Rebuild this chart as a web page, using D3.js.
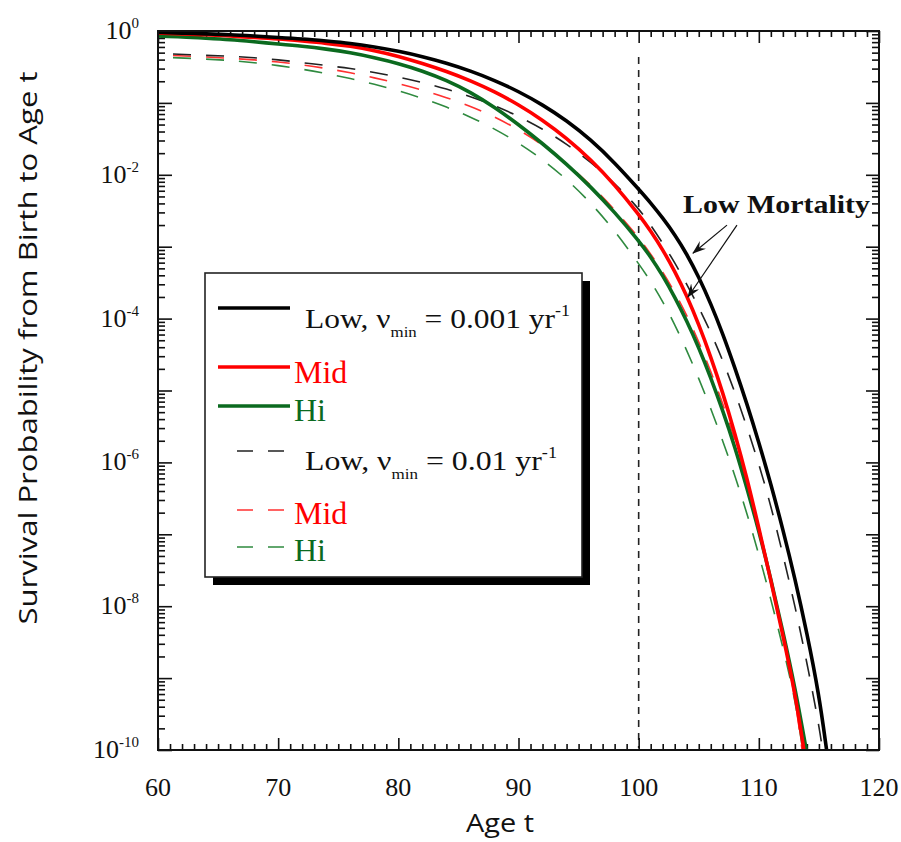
<!DOCTYPE html>
<html><head><meta charset="utf-8">
<script src="https://cdn.jsdelivr.net/npm/d3@7"></script>
<style>body{margin:0;background:#fff}svg{display:block}</style>
</head><body>
<svg id="chart" width="901" height="842"></svg>
<script>
// ---- data (survival probability, stored as log10 values) ----
const lowSolidAge = [60,62,64,66,68,70,72,74,76,78,80,82,84,86,88,90,92,94,96,98,100,101,102,103,104,105,106,107,108,109,110,111,112,113,114,115,115.64];
const lowSolidLog = [-0.02,-0.03,-0.04,-0.05,-0.07,-0.09,-0.11,-0.14,-0.17,-0.22,-0.28,-0.355,-0.445,-0.555,-0.685,-0.84,-1.025,-1.245,-1.51,-1.83,-2.2,-2.39,-2.6,-2.83,-3.1,-3.42,-3.79,-4.21,-4.68,-5.18,-5.72,-6.3,-6.93,-7.61,-8.37,-9.22,-10];
const midSolidAge = [60,62,64,66,68,70,72,74,76,78,80,82,84,86,88,90,92,94,96,98,100,101,102,103,104,105,106,107,108,109,110,111,112,113,113.75];
const midSolidLog = [-0.03,-0.04,-0.05,-0.07,-0.09,-0.11,-0.14,-0.17,-0.21,-0.27,-0.35,-0.45,-0.56,-0.69,-0.843,-1.024,-1.237,-1.489,-1.786,-2.136,-2.55,-2.78,-3.04,-3.34,-3.68,-4.08,-4.53,-5.03,-5.59,-6.21,-6.91,-7.64,-8.4,-9.19,-10];
const hiSolidAge = [60,62,64,66,68,70,72,74,76,78,80,82,84,86,88,90,92,94,96,98,100,101,102,103,104,105,106,107,108,109,110,111,112,113,113.95];
const hiSolidLog = [-0.07,-0.08,-0.1,-0.12,-0.15,-0.18,-0.21,-0.25,-0.3,-0.37,-0.45,-0.555,-0.685,-0.85,-1.06,-1.3,-1.565,-1.85,-2.165,-2.52,-2.915,-3.14,-3.4,-3.7,-4.03,-4.4,-4.82,-5.28,-5.78,-6.35,-6.95,-7.62,-8.35,-9.12,-10];
const lowDashAge = [61.25,64,66,68,70,72,74,76,78,80,82,84,86,88,90,92,94,96,98,100,101,102,103,104,105,106,107,108,109,110,111,112,113,114,115,115.3];
const lowDashLog = [-0.32,-0.34,-0.35,-0.37,-0.4,-0.44,-0.48,-0.52,-0.575,-0.64,-0.715,-0.805,-0.91,-1.035,-1.185,-1.36,-1.57,-1.82,-2.115,-2.465,-2.7,-2.95,-3.22,-3.52,-3.84,-4.19,-4.58,-5.02,-5.5,-6.02,-6.6,-7.28,-7.99,-8.78,-9.65,-10];
const midDashAge = [61.25,64,66,68,70,72,74,76,78,80,82,84,86,88,90,92,94,96,98,100,101,102,103,104,105,106,107,108,109,110,111,112,113,113.6];
const midDashLog = [-0.34,-0.36,-0.38,-0.4,-0.43,-0.47,-0.52,-0.58,-0.65,-0.73,-0.82,-0.925,-1.045,-1.19,-1.37,-1.58,-1.84,-2.14,-2.48,-2.87,-3.1,-3.35,-3.63,-3.95,-4.32,-4.73,-5.18,-5.68,-6.24,-6.88,-7.6,-8.4,-9.25,-10];
const hiDashAge = [61.25,64,66,68,70,72,74,76,78,80,82,84,86,88,90,92,94,96,98,100,101,102,103,104,105,106,107,108,109,110,111,112,113,113.65];
const hiDashLog = [-0.37,-0.39,-0.41,-0.44,-0.48,-0.53,-0.59,-0.66,-0.74,-0.83,-0.935,-1.055,-1.195,-1.36,-1.555,-1.785,-2.06,-2.385,-2.775,-3.235,-3.48,-3.76,-4.08,-4.44,-4.83,-5.25,-5.7,-6.18,-6.7,-7.28,-7.9,-8.57,-9.27,-10];

const xTickLabels = [60,70,80,90,100,110,120];
const yTickExponents = [0,-2,-4,-6,-8,-10];
const markerAge = [100];
const seriesNames = ["Low","Mid","Hi"];
const seriesColors = ["#000000","#ff0000","#0b6a1f"];
const dashColors = ["#222222","#ff3030","#2f8a3f"];
const xTitle = "Age t";
const yTitle = "Survival Probability from Birth to Age t";
const annotation = "Low Mortality";
// arrow start/end in data units [age, log10 S]
const arrowData = [[107.35,-2.70,104.52,-3.09],[108.18,-2.70,104.1,-3.70]];

// ---- layout ----
const svg = d3.select("#chart");
const L = 158, R = 879, T = 31, B = 750;
const x = d3.scaleLinear().domain([60,120]).range([L,R]);
const y = d3.scaleLog().domain([1,1e-10]).range([T,B]);
const defs = svg.append("defs");
defs.append("clipPath").attr("id","clip")
  .append("rect").attr("x",L).attr("y",T).attr("width",R-L).attr("height",B-T);

// vertical dashed marker
svg.selectAll(".vmark").data(markerAge).join("line")
  .attr("x1",d=>x(d)).attr("x2",d=>x(d)).attr("y1",T+26).attr("y2",B-2)
  .attr("stroke","#222").attr("stroke-width",1.6).attr("stroke-dasharray","7,6");

// ---- axes (ticks inward) ----
const majorX = d3.range(60,121,10);
const minorX = d3.range(60,121,1).filter(v=>v%10!==0);
const decades = d3.range(0,-11,-1).map(e=>Math.pow(10,e));
const minorY = [];
for (let e=0;e>-10;e--) for (let m=2;m<=9;m++) minorY.push(m*Math.pow(10,e-1));

function addAxis(axisGen, tr){
  const g = svg.append("g").attr("transform",tr).call(axisGen);
  g.select(".domain").remove();
  g.selectAll("line").attr("stroke","#111").attr("stroke-width",1.6);
  g.selectAll("text").remove();
}
addAxis(d3.axisBottom(x).tickValues(majorX).tickSize(-12), `translate(0,${B})`);
addAxis(d3.axisBottom(x).tickValues(minorX).tickSize(-6), `translate(0,${B})`);
addAxis(d3.axisTop(x).tickValues(majorX).tickSize(-12), `translate(0,${T})`);
addAxis(d3.axisTop(x).tickValues(minorX).tickSize(-6), `translate(0,${T})`);
addAxis(d3.axisLeft(y).tickValues(decades).tickSize(-14), `translate(${L},0)`);
addAxis(d3.axisLeft(y).tickValues(minorY).tickSize(-7), `translate(${L},0)`);
addAxis(d3.axisRight(y).tickValues(decades).tickSize(-13), `translate(${R},0)`);
addAxis(d3.axisRight(y).tickValues(minorY).tickSize(-7), `translate(${R},0)`);

// ---- curves ----
const line = d3.line().x(d=>x(d[0])).y(d=>y(Math.pow(10,d[1]))).curve(d3.curveBasis);
const gC = svg.append("g").attr("clip-path","url(#clip)");
const dashed = [[lowDashAge,lowDashLog],[midDashAge,midDashLog],[hiDashAge,hiDashLog]];
const solid = [[lowSolidAge,lowSolidLog],[midSolidAge,midSolidLog],[hiSolidAge,hiSolidLog]];
[2,1,0].forEach(i=>{
  const [a,v] = dashed[i];
  gC.append("path").attr("d",line(a.map((t,k)=>[t,v[k]])))
    .attr("fill","none").attr("stroke",dashColors[i]).attr("stroke-width",1.6)
    .attr("stroke-dasharray","18,15");
});
[2,1,0].forEach(i=>{
  const [a,v] = solid[i];
  gC.append("path").attr("d",line(a.map((t,k)=>[t,v[k]])))
    .attr("fill","none").attr("stroke",seriesColors[i]).attr("stroke-width",3.6);
});

// frame
svg.append("rect").attr("x",L).attr("y",T).attr("width",R-L).attr("height",B-T)
  .attr("fill","none").attr("stroke","#111").attr("stroke-width",2);

// ---- tick labels ----
const serif = "'Liberation Serif','Times New Roman',serif";
svg.selectAll(".xl").data(xTickLabels).join("text")
  .attr("x",d=>x(d)).attr("y",B+46).attr("text-anchor","middle")
  .attr("font-family",serif).attr("font-size",26).attr("fill","#111")
  .text(d=>d);
const yl = svg.selectAll(".yl").data(yTickExponents).join("text")
  .attr("x",139).attr("y",d=>y(Math.pow(10,d))+8).attr("text-anchor","end")
  .attr("font-family",serif).attr("font-size",26).attr("fill","#111");
yl.append("tspan").text("10");
yl.append("tspan").attr("dy",-11).attr("font-size",15).text(d=>d===0?"0":"-"+(-d));

// ---- axis titles ----
const sans = "'Open Sans','Noto Sans',sans-serif";
svg.append("text").attr("x",500).attr("y",832).attr("text-anchor","middle")
  .attr("font-family",sans).attr("font-size",25).attr("fill","#111")
  .attr("textLength",68).attr("lengthAdjust","spacingAndGlyphs").text(xTitle);
svg.append("text").attr("transform","translate(37,348) rotate(-90)").attr("text-anchor","middle")
  .attr("font-family",sans).attr("font-size",25).attr("fill","#111")
  .attr("textLength",553).attr("lengthAdjust","spacingAndGlyphs").text(yTitle);

// ---- annotation ----
svg.append("text").attr("x",683).attr("y",213).attr("font-family",serif)
  .attr("font-weight","bold").attr("font-size",26).attr("fill","#111")
  .attr("textLength",187).attr("lengthAdjust","spacingAndGlyphs").text(annotation);
defs.append("marker").attr("id","arr").attr("viewBox","0 0 14 10").attr("refX",13).attr("refY",5)
  .attr("markerWidth",14).attr("markerHeight",10).attr("markerUnits","userSpaceOnUse").attr("orient","auto")
  .append("path").attr("d","M0,0 L14,5 L0,10 L5,5 Z").attr("fill","#111");
svg.selectAll(".arr").data(arrowData).join("line")
  .attr("x1",d=>x(d[0])).attr("y1",d=>y(Math.pow(10,d[1])))
  .attr("x2",d=>x(d[2])).attr("y2",d=>y(Math.pow(10,d[3])))
  .attr("stroke","#111").attr("stroke-width",1.2).attr("marker-end","url(#arr)");

// ---- legend ----
const lg = svg.append("g");
lg.append("rect").attr("x",213).attr("y",281).attr("width",377).attr("height",304).attr("fill","#000");
lg.append("rect").attr("x",205).attr("y",273).attr("width",377).attr("height",304)
  .attr("fill","#fff").attr("stroke","#222").attr("stroke-width",1.6);
const rows = [
  {yl:308, x1:218, x2:290, dash:null, c:0, ty:328, tx:305, kind:"low", rate:"0.001", len:265},
  {yl:367, x1:218, x2:290, dash:null, c:1, ty:383, tx:294, kind:"Mid"},
  {yl:406, x1:218, x2:290, dash:null, c:2, ty:421, tx:294, kind:"Hi"},
  {yl:451, x1:237, x2:285, dash:"16,15", c:0, ty:470, tx:305, kind:"low", rate:"0.01", len:252},
  {yl:510, x1:237, x2:285, dash:"16,15", c:1, ty:524, tx:294, kind:"Mid"},
  {yl:547, x1:237, x2:285, dash:"16,15", c:2, ty:561, tx:294, kind:"Hi"}
];
rows.forEach(r=>{
  lg.append("line").attr("x1",r.x1).attr("x2",r.x2).attr("y1",r.yl).attr("y2",r.yl)
    .attr("stroke", r.dash ? dashColors[r.c] : seriesColors[r.c])
    .attr("stroke-width", r.dash ? 1.6 : 3.6)
    .attr("stroke-dasharray", r.dash);
  const t = lg.append("text").attr("x",r.tx).attr("y",r.ty).attr("font-family",serif).attr("fill", r.kind==="low" ? "#111" : seriesColors[r.c]);
  if (r.kind==="low") {
    t.attr("font-size",28).attr("textLength",r.len).attr("lengthAdjust","spacingAndGlyphs");
    t.append("tspan").text(seriesNames[0]+", \u03bd");
    t.append("tspan").attr("dy",9).attr("font-size",15).text("min");
    t.append("tspan").attr("dy",-9).text(" = "+r.rate+" yr");
    t.append("tspan").attr("dy",-12).attr("font-size",16).text("-1");
  } else {
    t.attr("font-size",32).text(r.kind);
  }
});
</script>
</body></html>
